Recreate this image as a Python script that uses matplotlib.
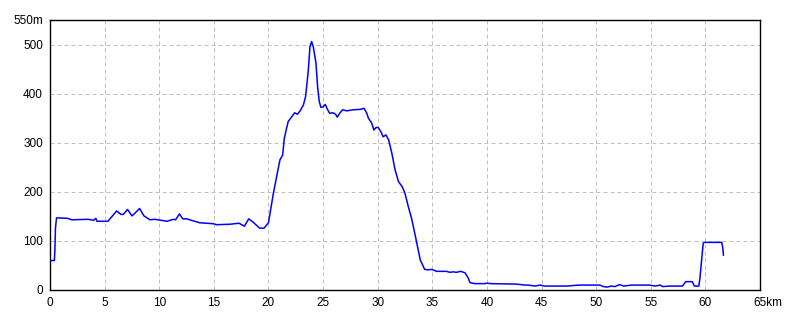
import matplotlib
matplotlib.use("Agg")
import matplotlib.pyplot as plt

km = [0, 0.4, 0.45, 0.5, 0.6,
      1.6, 2.0, 3.5, 4.0, 4.2,
      4.3, 5.3, 6.1, 6.5, 6.7,
      7.1, 7.5, 7.8, 8.2, 8.6,
      9.15, 9.6, 9.9, 10.7, 11.3,
      11.5, 11.85, 12.15, 12.5, 13.1,
      13.7, 14.3, 14.95, 15.25, 16.5,
      17.3, 17.8, 18.2, 18.6, 19.2,
      19.6, 20.0, 20.45, 20.75, 21.05,
      21.3, 21.45, 21.8, 22.1, 22.4,
      22.65, 22.9, 23.2, 23.4, 23.65,
      23.8, 23.95, 24.1, 24.35, 24.5,
      24.65, 24.8, 25.0, 25.2, 25.4,
      25.6, 25.9, 26.15, 26.3, 26.55,
      26.8, 27.15, 27.75, 28.4, 28.75,
      29.0, 29.15, 29.45, 29.65, 29.85,
      30.05, 30.3, 30.5, 30.75, 31.0,
      31.3, 31.6, 31.9, 32.25, 32.5,
      32.8, 33.1, 33.4, 33.65, 33.9,
      34.2, 34.3, 34.6, 34.95, 35.4,
      36.3, 36.6, 36.9, 37.2, 37.6,
      38.0, 38.3, 38.45, 38.9, 39.8,
      40.0, 40.3, 42.7, 43.5, 43.8,
      44.4, 44.85, 45.3, 46.7, 47.3,
      48.4, 49.1, 49.7, 50.35, 50.65,
      51.0, 51.4, 51.7, 52.15, 52.5,
      53.25, 53.9, 54.9, 55.4, 55.85,
      56.1, 56.75, 57.9, 58.2, 58.8,
      59.0, 59.4, 59.5, 59.6, 59.7,
      59.8, 59.9, 61.5, 61.6, 61.65]

elevation = [60, 60, 82, 126, 147,
             146, 143, 144, 142, 146,
             140, 140, 161, 154, 154,
             164, 151, 157, 166, 151,
             143, 144, 143, 140, 144,
             143, 155, 145, 145, 141,
             137, 136, 135, 133, 134,
             136, 130, 145, 138, 126,
             126, 137, 197, 231, 265,
             275, 309, 343, 352, 361,
             358, 365, 377, 394, 448,
             496, 506, 496, 462, 414,
             384, 372, 373, 378, 368,
             360, 361, 358, 352, 361,
             367, 365, 367, 368, 370,
             360, 350, 340, 326, 331,
             331, 322, 312, 316, 306,
             278, 244, 221, 210, 197,
             170, 146, 115, 88, 61,
             47, 42, 41, 42, 38,
             38, 36, 37, 36, 38,
             35, 24, 15, 13, 13,
             14, 13, 12, 10, 10,
             8, 10, 8, 8, 8,
             10, 10, 10, 10, 7,
             6, 8, 7, 11, 8,
             10, 10, 10, 8, 10,
             7, 8, 8, 17, 17,
             8, 8, 24, 47, 71,
             95, 97, 97, 85, 71]

x_ticks = [0, 5, 10, 15, 20, 25, 30, 35, 40, 45, 50, 55, 60, 65]
x_labels = ["0", "5", "10", "15", "20", "25", "30", "35", "40", "45", "50", "55", "60", ""]
y_ticks = [0, 100, 200, 300, 400, 500, 550]
y_labels = ["0", "100", "200", "300", "400", "500", "550m"]

plt.rcParams['font.family'] = ['Liberation Sans', 'DejaVu Sans']

fig = plt.figure(figsize=(8, 3.2), dpi=100)
ax = fig.add_axes([50/800, 30/320, 710/800, 270/320])

ax.plot(km, elevation, color='#0000ff', lw=1.1, zorder=3)

ax.set_xlim(0, 65)
ax.set_ylim(0, 550)
ax.set_xticks(x_ticks)
ax.set_xticklabels(x_labels)
ax.set_yticks(y_ticks)
ax.set_yticklabels(y_labels)
ax.tick_params(length=0, labelsize=8.5, pad=5, colors='black')

for v in x_ticks[1:-1]:
    ax.axvline(v, color='#c0c0c0', lw=0.72, ls=(0, (4, 3)), zorder=1)
for v in y_ticks[1:-1]:
    ax.axhline(v, color='#c0c0c0', lw=0.72, ls=(0, (4, 3)), zorder=1)

ax.annotate("65km", xy=(65, 0), xycoords='data', xytext=(-5, -5),
            textcoords='offset points', ha='left', va='top', fontsize=8.5)

for s in ax.spines.values():
    s.set_color('black')
    s.set_linewidth(1.0)

fig.savefig("out.png", dpi=100)
